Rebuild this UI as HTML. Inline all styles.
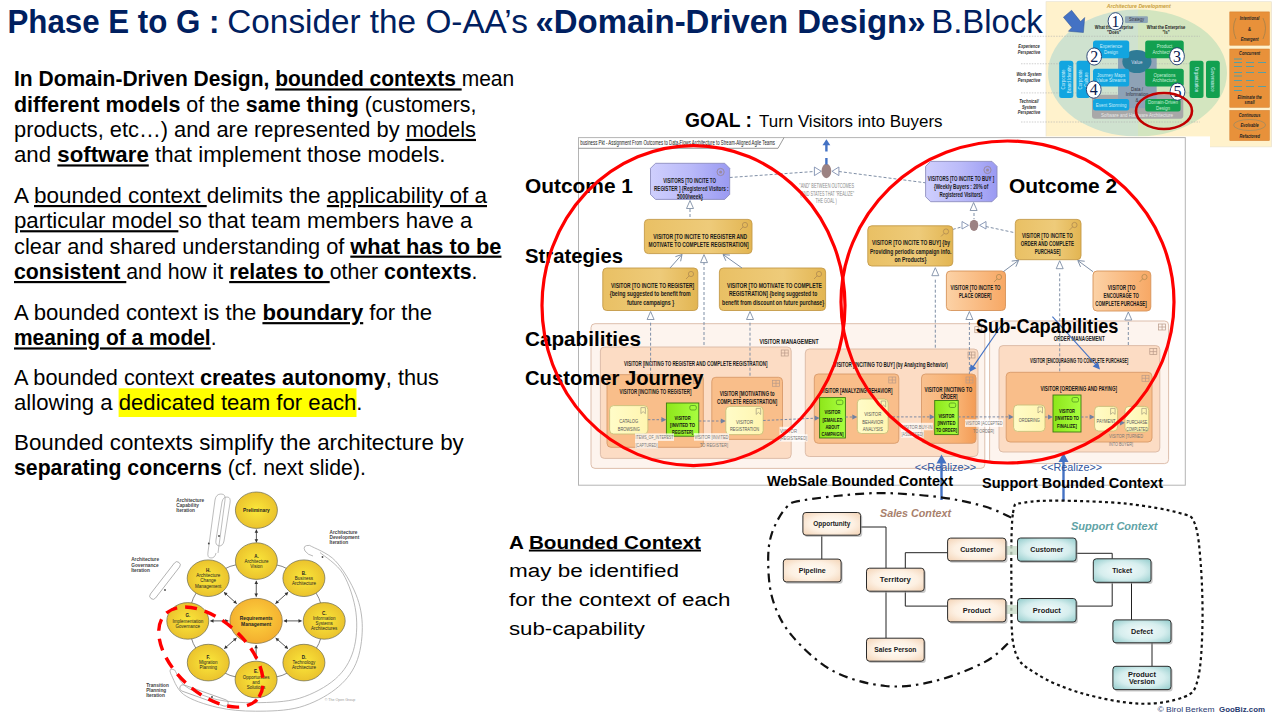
<!DOCTYPE html>
<html><head><meta charset="utf-8"><title>Domain-Driven Design B.Block</title>
<style>html,body{margin:0;padding:0;background:#fff;}svg{display:block;}</style></head>
<body><svg width="1280" height="720" viewBox="0 0 1280 720" font-family="Liberation Sans, sans-serif">
<defs>
<linearGradient id="gPurple" x1="0" x2="1" y1="0" y2="0"><stop offset="0" stop-color="#cfcffd"/><stop offset="0.5" stop-color="#babaf9"/><stop offset="1" stop-color="#9a9af2"/></linearGradient>
<linearGradient id="gGold" x1="0" x2="1" y1="0" y2="0"><stop offset="0" stop-color="#e9c064"/><stop offset="0.6" stop-color="#eecb7a"/><stop offset="1" stop-color="#e2b552"/></linearGradient>
<linearGradient id="gOrange" x1="0" x2="1" y1="0" y2="0"><stop offset="0" stop-color="#fcd2a6"/><stop offset="1" stop-color="#f7a865"/></linearGradient>
<linearGradient id="gSub" x1="0" x2="1" y1="0" y2="0"><stop offset="0" stop-color="#f9bf8c"/><stop offset="1" stop-color="#f8b67c"/></linearGradient>
<linearGradient id="gSub2" x1="0" x2="1" y1="0" y2="0"><stop offset="0" stop-color="#f9c08e"/><stop offset="0.7" stop-color="#f8b070"/><stop offset="1" stop-color="#f39b55"/></linearGradient>
<linearGradient id="gGreen" x1="0" x2="1" y1="0" y2="0"><stop offset="0" stop-color="#8ee61a"/><stop offset="1" stop-color="#a8ff40"/></linearGradient>
<linearGradient id="gYellow" x1="0" x2="1" y1="0" y2="0"><stop offset="0" stop-color="#fffcc8"/><stop offset="1" stop-color="#fff5b0"/></linearGradient>
<linearGradient id="gPeach" x1="0" x2="0" y1="0" y2="1"><stop offset="0" stop-color="#fffaf4"/><stop offset="1" stop-color="#f8dcc2"/></linearGradient>
<linearGradient id="gTeal" x1="0" x2="0" y1="0" y2="1"><stop offset="0" stop-color="#f0fafa"/><stop offset="1" stop-color="#a9d6d6"/></linearGradient>
<radialGradient id="gAdm" cx="0.5" cy="0.5" r="0.55"><stop offset="0" stop-color="#fbe83a"/><stop offset="1" stop-color="#e9bf2c"/></radialGradient>
<radialGradient id="gAdmC" cx="0.5" cy="0.45" r="0.55"><stop offset="0" stop-color="#fdd640"/><stop offset="1" stop-color="#f3ad2e"/></radialGradient>
</defs>
<rect x="1013.00" y="1.70" width="33.00" height="145.20" rx="0" fill="#ffffff" stroke="none" stroke-width="1" />
<rect x="1046.00" y="1.70" width="225.70" height="145.20" rx="0" fill="#fff2cc" stroke="#e6e0d0" stroke-width="0.6" />
<clipPath id="cpL"><rect x="1040" y="0" width="98" height="150"/></clipPath>
<clipPath id="cpR"><rect x="1138" y="0" width="100" height="150"/></clipPath>
<ellipse cx="1137.5" cy="73" rx="89.5" ry="63.5" fill="#cfe2cf" clip-path="url(#cpL)"/>
<ellipse cx="1137.5" cy="73" rx="89.5" ry="63.5" fill="#d3e5bf" clip-path="url(#cpR)"/>
<line x1="1021" y1="36.25" x2="1200" y2="36.25" stroke="#b0b0b0" stroke-width="0.6" stroke-dasharray="1.5 1.2"/>
<line x1="1021" y1="63.75" x2="1200" y2="63.75" stroke="#b0b0b0" stroke-width="0.6" stroke-dasharray="1.5 1.2"/>
<line x1="1021" y1="92.9" x2="1200" y2="92.9" stroke="#b0b0b0" stroke-width="0.6" stroke-dasharray="1.5 1.2"/>
<line x1="1021" y1="122" x2="1200" y2="122" stroke="#b0b0b0" stroke-width="0.6" stroke-dasharray="1.5 1.2"/>
<text font-style="italic" transform="translate(1029.00 48.00) scale(0.8 1)" font-size="5" font-weight="bold" fill="#333" text-anchor="middle">Experience</text>
<text font-style="italic" transform="translate(1029.00 53.60) scale(0.8 1)" font-size="5" font-weight="bold" fill="#333" text-anchor="middle">Perspective</text>
<text font-style="italic" transform="translate(1029.00 76.00) scale(0.8 1)" font-size="5" font-weight="bold" fill="#333" text-anchor="middle">Work System</text>
<text font-style="italic" transform="translate(1029.00 81.60) scale(0.8 1)" font-size="5" font-weight="bold" fill="#333" text-anchor="middle">Perspective</text>
<text font-style="italic" transform="translate(1029.00 103.00) scale(0.8 1)" font-size="5" font-weight="bold" fill="#333" text-anchor="middle">Technical/</text>
<text font-style="italic" transform="translate(1029.00 108.60) scale(0.8 1)" font-size="5" font-weight="bold" fill="#333" text-anchor="middle">System</text>
<text font-style="italic" transform="translate(1029.00 114.20) scale(0.8 1)" font-size="5" font-weight="bold" fill="#333" text-anchor="middle">Perspective</text>
<text font-style="italic" x="1106.70" y="8.20" font-size="6.2" font-weight="bold" fill="#c8a03c" textLength="64.00" lengthAdjust="spacingAndGlyphs">Architecture Development</text>
<rect x="1092.00" y="94.80" width="91.30" height="23.95" rx="3" fill="#a8a8a8" stroke="none" stroke-width="1" />
<text transform="translate(1137.00 116.50) scale(0.9 1)" font-size="5" font-weight="normal" fill="#e8e8e8" text-anchor="middle">Software and Hardware Architecture</text>
<rect x="1118.00" y="56.00" width="38.70" height="52.30" rx="3" fill="#8ea2b6" stroke="none" stroke-width="1" />
<ellipse cx="1136.9" cy="61.5" rx="14.6" ry="11.5" fill="#2e7b96"/>
<text transform="translate(1136.90 63.50) scale(0.9 1)" font-size="5" font-weight="normal" fill="#dde" text-anchor="middle">Value</text>
<text transform="translate(1137.00 90.50) scale(0.9 1)" font-size="5" font-weight="normal" fill="#334" text-anchor="middle">Data /</text>
<text transform="translate(1137.00 96.00) scale(0.9 1)" font-size="5" font-weight="normal" fill="#334" text-anchor="middle">Information</text>
<text transform="translate(1137.00 101.50) scale(0.9 1)" font-size="5" font-weight="normal" fill="#334" text-anchor="middle">&amp;</text>
<rect x="1093.00" y="40.60" width="36.20" height="17.70" rx="2.5" fill="#12a5e0" stroke="none" stroke-width="1" />
<text transform="translate(1111.10 48.45) scale(0.9 1)" font-size="5" font-weight="normal" fill="#cdeefa" text-anchor="middle">Experience</text>
<text transform="translate(1111.10 54.05) scale(0.9 1)" font-size="5" font-weight="normal" fill="#cdeefa" text-anchor="middle">Design</text>
<rect x="1093.00" y="68.75" width="36.20" height="17.75" rx="2.5" fill="#12a5e0" stroke="none" stroke-width="1" />
<text transform="translate(1111.10 76.62) scale(0.9 1)" font-size="5" font-weight="normal" fill="#cdeefa" text-anchor="middle">Journey Maps</text>
<text transform="translate(1111.10 82.22) scale(0.9 1)" font-size="5" font-weight="normal" fill="#cdeefa" text-anchor="middle">Value Streams</text>
<rect x="1093.00" y="99.00" width="36.20" height="11.40" rx="2.5" fill="#12a5e0" stroke="none" stroke-width="1" />
<text transform="translate(1111.10 106.50) scale(0.9 1)" font-size="5" font-weight="normal" fill="#cdeefa" text-anchor="middle">Event Storming</text>
<rect x="1145.20" y="40.60" width="38.55" height="17.70" rx="2.5" fill="#12a050" stroke="none" stroke-width="1" />
<text transform="translate(1164.47 48.45) scale(0.9 1)" font-size="5" font-weight="normal" fill="#c8f0d8" text-anchor="middle">Product</text>
<text transform="translate(1164.47 54.05) scale(0.9 1)" font-size="5" font-weight="normal" fill="#c8f0d8" text-anchor="middle">Architecture</text>
<rect x="1145.20" y="68.75" width="38.55" height="17.75" rx="2.5" fill="#12a050" stroke="none" stroke-width="1" />
<text transform="translate(1164.47 76.62) scale(0.9 1)" font-size="5" font-weight="normal" fill="#c8f0d8" text-anchor="middle">Operations</text>
<text transform="translate(1164.47 82.22) scale(0.9 1)" font-size="5" font-weight="normal" fill="#c8f0d8" text-anchor="middle">Architecture</text>
<rect x="1145.20" y="99.00" width="35.40" height="12.50" rx="2.5" fill="#12a050" stroke="none" stroke-width="1" />
<text transform="translate(1162.90 104.25) scale(0.9 1)" font-size="5" font-weight="normal" fill="#c8f0d8" text-anchor="middle">Domain-Driven</text>
<text transform="translate(1162.90 109.85) scale(0.9 1)" font-size="5" font-weight="normal" fill="#c8f0d8" text-anchor="middle">Design</text>
<rect x="1059.20" y="60.80" width="14.10" height="37.20" rx="2.5" fill="#12a5e0" stroke="none" stroke-width="1" />
<text transform="translate(1065.25 79.4) rotate(-90) scale(0.9 1)" font-size="5" text-anchor="middle" fill="#d4f0fc">Corporate</text>
<text transform="translate(1070.85 79.4) rotate(-90) scale(0.9 1)" font-size="5" text-anchor="middle" fill="#d4f0fc">Brand Identity</text>
<rect x="1076.50" y="60.80" width="13.50" height="37.20" rx="2.5" fill="#12a5e0" stroke="none" stroke-width="1" />
<text transform="translate(1082.25 79.4) rotate(-90) scale(0.9 1)" font-size="5" text-anchor="middle" fill="#d4f0fc">Corporate</text>
<text transform="translate(1087.85 79.4) rotate(-90) scale(0.9 1)" font-size="5" text-anchor="middle" fill="#d4f0fc">Culture</text>
<rect x="1189.60" y="60.80" width="13.90" height="37.20" rx="2.5" fill="#12a050" stroke="none" stroke-width="1" />
<text transform="translate(1194.75 79.4) rotate(90) scale(0.9 1)" font-size="5" text-anchor="middle" fill="#d4f0fc">Organization</text>
<rect x="1206.00" y="60.80" width="13.80" height="37.20" rx="2.5" fill="#12a050" stroke="none" stroke-width="1" />
<text transform="translate(1211.10 79.4) rotate(90) scale(0.9 1)" font-size="5" text-anchor="middle" fill="#d4f0fc">Governance</text>
<rect x="1125.00" y="16.25" width="22.90" height="6.65" rx="1" fill="#8fa6b6" stroke="none" stroke-width="1" />
<text transform="translate(1136.50 21.30) scale(0.9 1)" font-size="4.5" font-weight="normal" fill="#334" text-anchor="middle">Strategy</text>
<text transform="translate(1114.00 28.50) scale(0.85 1)" font-size="4.8" font-weight="bold" fill="#222" text-anchor="middle">What the Enterprise</text>
<text transform="translate(1114.00 33.50) scale(0.85 1)" font-size="4.8" font-weight="bold" fill="#222" text-anchor="middle">"Does"</text>
<text transform="translate(1166.00 28.50) scale(0.85 1)" font-size="4.8" font-weight="bold" fill="#222" text-anchor="middle">What the Enterprise</text>
<text transform="translate(1166.00 33.50) scale(0.85 1)" font-size="4.8" font-weight="bold" fill="#222" text-anchor="middle">"Is"</text>
<path d="M1063.4 17.2 L1071.6 10.3 L1080.6 21.6 L1084.7 17.5 L1083.4 32.5 L1068.4 31.25 L1071.9 27.5 Z" fill="#4472c4" stroke="#2f528f" stroke-width="0.5"/>
<rect x="1229.80" y="11.90" width="39.60" height="33.30" rx="0" fill="#e8913a" stroke="#d07a28" stroke-width="0.5" />
<rect x="1229.80" y="49.00" width="39.60" height="58.30" rx="0" fill="#e8913a" stroke="#d07a28" stroke-width="0.5" />
<rect x="1229.80" y="110.40" width="39.60" height="30.20" rx="0" fill="#e8913a" stroke="#d07a28" stroke-width="0.5" />
<text font-style="italic" transform="translate(1249.60 19.50) scale(0.85 1)" font-size="4.6" font-weight="bold" fill="#222" text-anchor="middle">Intentional</text>
<text transform="translate(1249.60 30.50) scale(0.85 1)" font-size="5" font-weight="bold" fill="#222" text-anchor="middle">&amp;</text>
<text font-style="italic" transform="translate(1249.60 41.00) scale(0.85 1)" font-size="4.6" font-weight="bold" fill="#222" text-anchor="middle">Emergent</text>
<path d="M1236 18 Q1231 28 1236 39 M1263 18 Q1268 28 1263 39" fill="none" stroke="#8a7a50" stroke-width="0.6"/>
<text font-style="italic" transform="translate(1249.60 55.00) scale(0.85 1)" font-size="4.6" font-weight="bold" fill="#222" text-anchor="middle">Concurrent</text>
<line x1="1234" y1="59" x2="1242" y2="59" stroke="#46a0b0" stroke-width="0.9"/>
<line x1="1234" y1="62.5" x2="1242" y2="62.5" stroke="#46a0b0" stroke-width="0.9"/>
<line x1="1246" y1="62.5" x2="1254" y2="62.5" stroke="#46a0b0" stroke-width="0.9"/>
<line x1="1258" y1="62.5" x2="1266" y2="62.5" stroke="#46a0b0" stroke-width="0.9"/>
<line x1="1234" y1="66.5" x2="1242" y2="66.5" stroke="#46a0b0" stroke-width="0.9"/>
<line x1="1246" y1="66.5" x2="1254" y2="66.5" stroke="#46a0b0" stroke-width="0.9"/>
<line x1="1234" y1="72.5" x2="1242" y2="72.5" stroke="#46a0b0" stroke-width="0.9"/>
<line x1="1246" y1="72.5" x2="1254" y2="72.5" stroke="#46a0b0" stroke-width="0.9"/>
<line x1="1258" y1="72.5" x2="1266" y2="72.5" stroke="#46a0b0" stroke-width="0.9"/>
<line x1="1234" y1="76" x2="1242" y2="76" stroke="#46a0b0" stroke-width="0.9"/>
<line x1="1234" y1="80.5" x2="1242" y2="80.5" stroke="#46a0b0" stroke-width="0.9"/>
<line x1="1246" y1="80.5" x2="1254" y2="80.5" stroke="#46a0b0" stroke-width="0.9"/>
<line x1="1234" y1="86.5" x2="1242" y2="86.5" stroke="#46a0b0" stroke-width="0.9"/>
<line x1="1246" y1="86.5" x2="1254" y2="86.5" stroke="#46a0b0" stroke-width="0.9"/>
<line x1="1258" y1="86.5" x2="1266" y2="86.5" stroke="#46a0b0" stroke-width="0.9"/>
<line x1="1234" y1="90.5" x2="1242" y2="90.5" stroke="#46a0b0" stroke-width="0.9"/>
<text font-style="italic" transform="translate(1249.60 98.50) scale(0.85 1)" font-size="4.6" font-weight="bold" fill="#222" text-anchor="middle">Eliminate the</text>
<text font-style="italic" transform="translate(1249.60 104.00) scale(0.85 1)" font-size="4.6" font-weight="bold" fill="#222" text-anchor="middle">small</text>
<text font-style="italic" transform="translate(1249.60 116.50) scale(0.85 1)" font-size="4.6" font-weight="bold" fill="#222" text-anchor="middle">Continuous</text>
<ellipse cx="1249.6" cy="125" rx="16" ry="5.5" fill="none" stroke="#a08a60" stroke-width="0.8"/>
<text font-style="italic" transform="translate(1249.60 126.80) scale(0.85 1)" font-size="4.6" font-weight="bold" fill="#222" text-anchor="middle">Evolvable</text>
<text font-style="italic" transform="translate(1249.60 137.50) scale(0.85 1)" font-size="4.6" font-weight="bold" fill="#222" text-anchor="middle">Refactored</text>
<ellipse cx="1115.5" cy="21.25" rx="7.4" ry="8.6" fill="#ffffff" stroke="#1f3a70" stroke-width="0.9"/>
<text x="1115.5" y="26.85" font-size="16" font-family="Liberation Serif" text-anchor="middle" fill="#0a1a50">1</text>
<ellipse cx="1094.2" cy="56.5" rx="7.4" ry="8.6" fill="#ffffff" stroke="#1f3a70" stroke-width="0.9"/>
<text x="1094.2" y="62.1" font-size="16" font-family="Liberation Serif" text-anchor="middle" fill="#0a1a50">2</text>
<ellipse cx="1177" cy="56.25" rx="7.4" ry="8.6" fill="#ffffff" stroke="#1f3a70" stroke-width="0.9"/>
<text x="1177" y="61.85" font-size="16" font-family="Liberation Serif" text-anchor="middle" fill="#0a1a50">3</text>
<ellipse cx="1093.75" cy="89.6" rx="7.4" ry="8.6" fill="#ffffff" stroke="#1f3a70" stroke-width="0.9"/>
<text x="1093.75" y="95.19999999999999" font-size="16" font-family="Liberation Serif" text-anchor="middle" fill="#0a1a50">4</text>
<ellipse cx="1177.5" cy="91.7" rx="7.4" ry="8.6" fill="#ffffff" stroke="#1f3a70" stroke-width="0.9"/>
<text x="1177.5" y="97.3" font-size="16" font-family="Liberation Serif" text-anchor="middle" fill="#0a1a50">5</text>
<ellipse cx="1164" cy="111" rx="28" ry="18" fill="none" stroke="#c00000" stroke-width="2.6"/>
<text x="7.50" y="33.00" font-size="33.5" textLength="212.00" lengthAdjust="spacingAndGlyphs" font-weight="bold" fill="#002060" >Phase E to G :</text>
<text x="227.30" y="33.00" font-size="33.5" textLength="300.50" lengthAdjust="spacingAndGlyphs" fill="#002060" >Consider the O-AA’s</text>
<text x="535.50" y="33.00" font-size="33.5" textLength="390.00" lengthAdjust="spacingAndGlyphs" font-weight="bold" fill="#002060" >«Domain-Driven Design»</text>
<text x="931.30" y="33.00" font-size="33.5" textLength="111.50" lengthAdjust="spacingAndGlyphs" fill="#002060" >B.Block</text>
<rect x="578.00" y="136.40" width="632.00" height="350.60" rx="0" fill="#ffffff" stroke="none" stroke-width="1" />
<rect x="578.50" y="137.60" width="606.80" height="347.60" rx="0" fill="none" stroke="#b4b4b4" stroke-width="1" />
<path d="M578.5 148.3 L778 148.3 L784 137.6" fill="none" stroke="#808080" stroke-width="0.8"/>
<text x="580.30" y="145.20" font-size="7" font-weight="normal" fill="#222" textLength="194.70" lengthAdjust="spacingAndGlyphs">business Pkt - Assignment From Outcomes to Data-Flows Architecture to Stream-Aligned Agile Teams</text>
<rect x="591.00" y="323.70" width="393.80" height="144.70" rx="4" fill="#fdf4ee" stroke="#d9b8a4" stroke-width="0.9" />
<text x="759.50" y="343.60" font-size="6.6" font-weight="bold" fill="#1a1a1a" textLength="59.20" lengthAdjust="spacingAndGlyphs">VISITOR MANAGEMENT</text>
<rect x="989.60" y="321.00" width="179.00" height="142.60" rx="4" fill="#fdf4ee" stroke="#d9b8a4" stroke-width="0.9" />
<text x="1053.70" y="341.20" font-size="6.6" font-weight="bold" fill="#1a1a1a" textLength="51.00" lengthAdjust="spacingAndGlyphs">ORDER MANAGEMENT</text>
<rect x="600.40" y="347.00" width="190.80" height="111.40" rx="4" fill="#fcdcc4" stroke="#d9b8a4" stroke-width="0.9" />
<text x="624.00" y="366.20" font-size="6.4" font-weight="bold" fill="#1a1a1a" textLength="143.50" lengthAdjust="spacingAndGlyphs">VISITOR [INCITING TO REGISTER AND COMPLETE REGISTRATION]</text>
<rect x="607.00" y="374.70" width="96.30" height="72.60" rx="4" fill="#f9be8a" stroke="#d89a6a" stroke-width="0.9" />
<text x="619.60" y="394.20" font-size="6.4" font-weight="bold" fill="#1a1a1a" textLength="71.80" lengthAdjust="spacingAndGlyphs">VISITOR [INCITING TO REGISTER]</text>
<rect x="711.80" y="377.30" width="70.70" height="62.10" rx="4" fill="#f9be8a" stroke="#d89a6a" stroke-width="0.9" />
<text x="719.70" y="396.00" font-size="6.4" font-weight="bold" fill="#1a1a1a" textLength="54.90" lengthAdjust="spacingAndGlyphs">VISITOR [MOTIVATING to</text>
<text x="717.00" y="403.90" font-size="6.4" font-weight="bold" fill="#1a1a1a" textLength="60.20" lengthAdjust="spacingAndGlyphs">COMPLETE REGISTRATION]</text>
<rect x="805.30" y="349.00" width="172.70" height="107.50" rx="4" fill="#fcdcc4" stroke="#d9b8a4" stroke-width="0.9" />
<text x="833.60" y="367.00" font-size="6.4" font-weight="bold" fill="#1a1a1a" textLength="114.30" lengthAdjust="spacingAndGlyphs">VISITOR [INCITING TO BUY] (by Analyzing Behavior)</text>
<rect x="814.30" y="374.00" width="84.50" height="69.30" rx="4" fill="#f9be8a" stroke="#d89a6a" stroke-width="0.9" />
<text x="821.20" y="392.60" font-size="6.4" font-weight="bold" fill="#1a1a1a" textLength="71.20" lengthAdjust="spacingAndGlyphs">VISITOR [ANALYZING BEHAVIOR]</text>
<rect x="921.50" y="374.00" width="54.50" height="69.30" rx="4" fill="url(#gSub2)" stroke="#d89a6a" stroke-width="0.9" />
<text x="924.60" y="392.00" font-size="6.4" font-weight="bold" fill="#1a1a1a" textLength="47.60" lengthAdjust="spacingAndGlyphs">VISITOR [INCITING TO</text>
<text x="949.00" y="399.40" font-size="6.4" font-weight="bold" fill="#1a1a1a" text-anchor="middle" textLength="17.00" lengthAdjust="spacingAndGlyphs">ORDER]</text>
<rect x="999.00" y="345.60" width="160.80" height="106.40" rx="4" fill="#fcdcc4" stroke="#d9b8a4" stroke-width="0.9" />
<text x="1030.00" y="363.00" font-size="6.4" font-weight="bold" fill="#1a1a1a" textLength="98.20" lengthAdjust="spacingAndGlyphs">VISITOR [ENCOURAGING TO COMPLETE PURCHASE]</text>
<rect x="1006.20" y="372.30" width="145.80" height="69.70" rx="4" fill="#f9be8a" stroke="#d89a6a" stroke-width="0.9" />
<text x="1040.50" y="390.70" font-size="6.4" font-weight="bold" fill="#1a1a1a" textLength="76.50" lengthAdjust="spacingAndGlyphs">VISITOR [ORDERING AND PAYING]</text>
<g fill="none" stroke="#b89a88" stroke-width="0.7"><rect x="781.2" y="350.0" width="7" height="6"/><line x1="781.2" y1="353.0" x2="788.2" y2="353.0"/><line x1="784.7" y1="350.0" x2="784.7" y2="356.0"/></g>
<g fill="none" stroke="#b89a88" stroke-width="0.7"><rect x="693.3" y="377.7" width="7" height="6"/><line x1="693.3" y1="380.7" x2="700.3" y2="380.7"/><line x1="696.8" y1="377.7" x2="696.8" y2="383.7"/></g>
<g fill="none" stroke="#b89a88" stroke-width="0.7"><rect x="772.5" y="380.3" width="7" height="6"/><line x1="772.5" y1="383.3" x2="779.5" y2="383.3"/><line x1="776.0" y1="380.3" x2="776.0" y2="386.3"/></g>
<g fill="none" stroke="#b89a88" stroke-width="0.7"><rect x="968.0" y="352.0" width="7" height="6"/><line x1="968.0" y1="355.0" x2="975.0" y2="355.0"/><line x1="971.5" y1="352.0" x2="971.5" y2="358.0"/></g>
<g fill="none" stroke="#b89a88" stroke-width="0.7"><rect x="888.8" y="377.0" width="7" height="6"/><line x1="888.8" y1="380.0" x2="895.8" y2="380.0"/><line x1="892.3" y1="377.0" x2="892.3" y2="383.0"/></g>
<g fill="none" stroke="#b89a88" stroke-width="0.7"><rect x="966.0" y="377.0" width="7" height="6"/><line x1="966.0" y1="380.0" x2="973.0" y2="380.0"/><line x1="969.5" y1="377.0" x2="969.5" y2="383.0"/></g>
<g fill="none" stroke="#b89a88" stroke-width="0.7"><rect x="1149.8" y="348.6" width="7" height="6"/><line x1="1149.8" y1="351.6" x2="1156.8" y2="351.6"/><line x1="1153.3" y1="348.6" x2="1153.3" y2="354.6"/></g>
<g fill="none" stroke="#b89a88" stroke-width="0.7"><rect x="1142.0" y="375.3" width="7" height="6"/><line x1="1142.0" y1="378.3" x2="1149.0" y2="378.3"/><line x1="1145.5" y1="375.3" x2="1145.5" y2="381.3"/></g>
<g fill="none" stroke="#b89a88" stroke-width="0.7"><rect x="1158.6" y="324.0" width="7" height="6"/><line x1="1158.6" y1="327.0" x2="1165.6" y2="327.0"/><line x1="1162.1" y1="324.0" x2="1162.1" y2="330.0"/></g>
<g fill="none" stroke="#b89a88" stroke-width="0.7"><rect x="974.8" y="326.7" width="7" height="6"/><line x1="974.8" y1="329.7" x2="981.8" y2="329.7"/><line x1="978.3" y1="326.7" x2="978.3" y2="332.7"/></g>
<rect x="609.60" y="405.60" width="38.30" height="28.40" rx="4" fill="url(#gYellow)" stroke="#c9c07a" stroke-width="0.9" /><text x="628.75" y="423.00" font-size="6" font-weight="normal" fill="#555" text-anchor="middle" textLength="19.00" lengthAdjust="spacingAndGlyphs">CATALOG</text><text x="628.75" y="430.60" font-size="6" font-weight="normal" fill="#555" text-anchor="middle" textLength="22.00" lengthAdjust="spacingAndGlyphs">BROWSING</text>
<rect x="725.80" y="406.40" width="37.40" height="28.20" rx="4" fill="url(#gYellow)" stroke="#c9c07a" stroke-width="0.9" /><text x="744.50" y="423.50" font-size="6" font-weight="normal" fill="#555" text-anchor="middle" textLength="17.00" lengthAdjust="spacingAndGlyphs">VISITOR</text><text x="744.50" y="431.20" font-size="6" font-weight="normal" fill="#555" text-anchor="middle" textLength="29.00" lengthAdjust="spacingAndGlyphs">REGISTRATION</text>
<rect x="857.30" y="399.00" width="30.90" height="34.50" rx="4" fill="url(#gYellow)" stroke="#c9c07a" stroke-width="0.9" /><text x="872.75" y="416.10" font-size="6" font-weight="normal" fill="#555" text-anchor="middle" textLength="17.00" lengthAdjust="spacingAndGlyphs">VISITOR</text><text x="872.75" y="423.60" font-size="6" font-weight="normal" fill="#555" text-anchor="middle" textLength="21.00" lengthAdjust="spacingAndGlyphs">BEHAVIOR</text><text x="872.75" y="431.10" font-size="6" font-weight="normal" fill="#555" text-anchor="middle" textLength="20.00" lengthAdjust="spacingAndGlyphs">ANALYSIS</text>
<rect x="1013.60" y="405.00" width="31.40" height="26.40" rx="4" fill="url(#gYellow)" stroke="#c9c07a" stroke-width="0.9" /><text x="1029.30" y="422.30" font-size="6" font-weight="normal" fill="#555" text-anchor="middle" textLength="21.00" lengthAdjust="spacingAndGlyphs">ORDERING</text>
<rect x="1094.60" y="406.40" width="23.00" height="24.60" rx="4" fill="url(#gYellow)" stroke="#c9c07a" stroke-width="0.9" /><text x="1106.10" y="422.60" font-size="6" font-weight="normal" fill="#555" text-anchor="middle" textLength="19.00" lengthAdjust="spacingAndGlyphs">PAYMENT</text>
<rect x="1125.00" y="406.40" width="23.80" height="25.60" rx="4" fill="url(#gYellow)" stroke="#c9c07a" stroke-width="0.9" /><text x="1136.90" y="423.60" font-size="6" font-weight="normal" fill="#555" text-anchor="middle" textLength="21.00" lengthAdjust="spacingAndGlyphs">PURCHASE</text><text x="1136.90" y="431.10" font-size="6" font-weight="normal" fill="#555" text-anchor="middle" textLength="21.50" lengthAdjust="spacingAndGlyphs">COMPLETED</text>
<path d="M640.9 407.6 L645.4 407.6 L645.4 413.6 L643.15 411.6 L640.9 413.6 Z" fill="none" stroke="#a09a80" stroke-width="0.7"/>
<path d="M756.2 408.4 L760.7 408.4 L760.7 414.4 L758.45 412.4 L756.2 414.4 Z" fill="none" stroke="#a09a80" stroke-width="0.7"/>
<path d="M881.2 401 L885.7 401 L885.7 407 L883.45 405 L881.2 407 Z" fill="none" stroke="#a09a80" stroke-width="0.7"/>
<path d="M1038 407 L1042.5 407 L1042.5 413 L1040.25 411 L1038 413 Z" fill="none" stroke="#a09a80" stroke-width="0.7"/>
<path d="M1110.6 408.4 L1115.1 408.4 L1115.1 414.4 L1112.85 412.4 L1110.6 414.4 Z" fill="none" stroke="#a09a80" stroke-width="0.7"/>
<path d="M1141.8 408.4 L1146.3 408.4 L1146.3 414.4 L1144.05 412.4 L1141.8 414.4 Z" fill="none" stroke="#a09a80" stroke-width="0.7"/>
<rect x="666.40" y="403.00" width="32.40" height="33.20" rx="0" fill="url(#gGreen)" stroke="#3a7a10" stroke-width="0.9" /><text x="682.60" y="420.40" font-size="6" font-weight="bold" fill="#111" text-anchor="middle" textLength="16.00" lengthAdjust="spacingAndGlyphs">VISITOR</text><text x="682.60" y="427.20" font-size="6" font-weight="bold" fill="#111" text-anchor="middle" textLength="25.00" lengthAdjust="spacingAndGlyphs">[INVITED TO</text><text x="682.60" y="434.20" font-size="6" font-weight="bold" fill="#111" text-anchor="middle" textLength="21.00" lengthAdjust="spacingAndGlyphs">REGISTER]</text><rect x="689.80" y="405.50" width="6.50" height="4.50" rx="1.5" fill="none" stroke="#4a8a20" stroke-width="0.7" />
<rect x="819.60" y="397.60" width="25.80" height="40.40" rx="0" fill="url(#gGreen)" stroke="#3a7a10" stroke-width="0.9" /><text x="832.50" y="414.40" font-size="6" font-weight="bold" fill="#111" text-anchor="middle" textLength="16.00" lengthAdjust="spacingAndGlyphs">VISITOR</text><text x="832.50" y="421.80" font-size="6" font-weight="bold" fill="#111" text-anchor="middle" textLength="20.00" lengthAdjust="spacingAndGlyphs">[EMAILED</text><text x="832.50" y="429.00" font-size="6" font-weight="bold" fill="#111" text-anchor="middle" textLength="14.00" lengthAdjust="spacingAndGlyphs">ABOUT</text><text x="832.50" y="436.30" font-size="6" font-weight="bold" fill="#111" text-anchor="middle" textLength="22.00" lengthAdjust="spacingAndGlyphs">CAMPAIGN]</text><rect x="836.40" y="400.10" width="6.50" height="4.50" rx="1.5" fill="none" stroke="#4a8a20" stroke-width="0.7" />
<rect x="934.70" y="400.50" width="23.50" height="34.10" rx="0" fill="url(#gGreen)" stroke="#3a7a10" stroke-width="0.9" /><text x="946.45" y="417.80" font-size="6" font-weight="bold" fill="#111" text-anchor="middle" textLength="16.00" lengthAdjust="spacingAndGlyphs">VISITOR</text><text x="946.45" y="425.00" font-size="6" font-weight="bold" fill="#111" text-anchor="middle" textLength="18.00" lengthAdjust="spacingAndGlyphs">[INVITED</text><text x="946.45" y="432.30" font-size="6" font-weight="bold" fill="#111" text-anchor="middle" textLength="21.00" lengthAdjust="spacingAndGlyphs">TO ORDER]</text><rect x="949.20" y="403.00" width="6.50" height="4.50" rx="1.5" fill="none" stroke="#4a8a20" stroke-width="0.7" />
<rect x="1053.00" y="395.00" width="28.00" height="37.00" rx="0" fill="url(#gGreen)" stroke="#3a7a10" stroke-width="0.9" /><text x="1067.00" y="413.20" font-size="6" font-weight="bold" fill="#111" text-anchor="middle" textLength="16.00" lengthAdjust="spacingAndGlyphs">VISITOR</text><text x="1067.00" y="420.20" font-size="6" font-weight="bold" fill="#111" text-anchor="middle" textLength="24.00" lengthAdjust="spacingAndGlyphs">[INVITED TO</text><text x="1067.00" y="427.60" font-size="6" font-weight="bold" fill="#111" text-anchor="middle" textLength="20.00" lengthAdjust="spacingAndGlyphs">FINALIZE]</text><rect x="1072.00" y="397.50" width="6.50" height="4.50" rx="1.5" fill="none" stroke="#4a8a20" stroke-width="0.7" />
<line x1="647.90" y1="419.70" x2="662.40" y2="419.70" stroke="#6f80a0" stroke-width="0.9" stroke-dasharray="2.5 1.8"/><path d="M661.40 422.30 L666.40 419.70 L661.40 417.10 Z" fill="#6f80a0"/>
<line x1="698.80" y1="421.00" x2="721.80" y2="421.00" stroke="#6f80a0" stroke-width="0.9" stroke-dasharray="2.5 1.8"/><path d="M720.80 423.60 L725.80 421.00 L720.80 418.40 Z" fill="#6f80a0"/>
<line x1="763.20" y1="420.50" x2="815.60" y2="418.18" stroke="#6f80a0" stroke-width="0.9" stroke-dasharray="2.5 1.8"/><path d="M814.72 420.82 L819.60 418.00 L814.49 415.62 Z" fill="#6f80a0"/>
<line x1="845.40" y1="417.00" x2="853.30" y2="417.00" stroke="#6f80a0" stroke-width="0.9" stroke-dasharray="2.5 1.8"/><path d="M852.30 419.60 L857.30 417.00 L852.30 414.40 Z" fill="#6f80a0"/>
<line x1="888.20" y1="416.90" x2="930.70" y2="416.90" stroke="#6f80a0" stroke-width="0.9" stroke-dasharray="2.5 1.8"/><path d="M929.70 419.50 L934.70 416.90 L929.70 414.30 Z" fill="#6f80a0"/>
<line x1="958.20" y1="416.90" x2="1009.60" y2="416.90" stroke="#6f80a0" stroke-width="0.9" stroke-dasharray="2.5 1.8"/><path d="M1008.60 419.50 L1013.60 416.90 L1008.60 414.30 Z" fill="#6f80a0"/>
<line x1="1045.00" y1="417.00" x2="1049.00" y2="417.00" stroke="#6f80a0" stroke-width="0.9" stroke-dasharray="2.5 1.8"/><path d="M1048.00 419.60 L1053.00 417.00 L1048.00 414.40 Z" fill="#6f80a0"/>
<line x1="1081.00" y1="417.00" x2="1090.60" y2="417.00" stroke="#6f80a0" stroke-width="0.9" stroke-dasharray="2.5 1.8"/><path d="M1089.60 419.60 L1094.60 417.00 L1089.60 414.40 Z" fill="#6f80a0"/>
<line x1="1117.60" y1="422.80" x2="1121.00" y2="422.80" stroke="#6f80a0" stroke-width="1"/>
<path d="M1120 420.2 L1125 422.8 L1120 425.4 Z" fill="#6f80a0"/>
<rect x="635.00" y="433.40" width="39.00" height="7.50" rx="0" fill="#ffffff" stroke="none" stroke-width="1" opacity="0.75"/><text x="635.50" y="439.40" font-size="6" font-weight="normal" fill="#777" textLength="38.00" lengthAdjust="spacingAndGlyphs">ITEMS_OF_INTEREST</text><rect x="635.00" y="440.80" width="23.00" height="7.50" rx="0" fill="#ffffff" stroke="none" stroke-width="1" opacity="0.75"/><text x="635.50" y="446.80" font-size="6" font-weight="normal" fill="#777" textLength="22.00" lengthAdjust="spacingAndGlyphs">[CAPTURED]</text>
<rect x="694.00" y="433.20" width="35.00" height="7.50" rx="0" fill="#ffffff" stroke="none" stroke-width="1" opacity="0.75"/><text x="694.50" y="439.20" font-size="6" font-weight="normal" fill="#777" textLength="34.00" lengthAdjust="spacingAndGlyphs">VISITOR [INVITED</text>
<text x="700.00" y="446.80" font-size="6" font-weight="normal" fill="#777" textLength="28.00" lengthAdjust="spacingAndGlyphs">TO REGISTER]</text>
<rect x="779.50" y="426.80" width="18.00" height="7.50" rx="0" fill="#ffffff" stroke="none" stroke-width="1" opacity="0.75"/><text x="780.00" y="432.80" font-size="6" font-weight="normal" fill="#777" textLength="17.00" lengthAdjust="spacingAndGlyphs">VISITOR</text><rect x="779.50" y="434.20" width="28.00" height="7.50" rx="0" fill="#ffffff" stroke="none" stroke-width="1" opacity="0.75"/><text x="780.00" y="440.20" font-size="6" font-weight="normal" fill="#777" textLength="27.00" lengthAdjust="spacingAndGlyphs">[REGISTERED]</text>
<rect x="900.90" y="422.80" width="32.00" height="7.50" rx="0" fill="#ffffff" stroke="none" stroke-width="1" opacity="0.75"/><text x="901.40" y="428.80" font-size="6" font-weight="normal" fill="#777" textLength="31.00" lengthAdjust="spacingAndGlyphs">VISITOR.BUY-IN</text><rect x="900.90" y="430.20" width="23.00" height="7.50" rx="0" fill="#ffffff" stroke="none" stroke-width="1" opacity="0.75"/><text x="901.40" y="436.20" font-size="6" font-weight="normal" fill="#777" textLength="22.00" lengthAdjust="spacingAndGlyphs">[ASSESSED]</text>
<rect x="965.00" y="419.40" width="38.00" height="7.50" rx="0" fill="#ffffff" stroke="none" stroke-width="1" opacity="0.75"/><text x="965.50" y="425.40" font-size="6" font-weight="normal" fill="#777" textLength="37.00" lengthAdjust="spacingAndGlyphs">VISITOR [ACCEPTED</text>
<text x="973.00" y="432.80" font-size="6" font-weight="normal" fill="#777" textLength="21.00" lengthAdjust="spacingAndGlyphs">TO ORDER]</text>
<text x="1109.00" y="438.20" font-size="6" font-weight="normal" fill="#777" textLength="34.00" lengthAdjust="spacingAndGlyphs">VISITOR [TURNED</text>
<text x="1109.00" y="445.60" font-size="6" font-weight="normal" fill="#777" textLength="24.00" lengthAdjust="spacingAndGlyphs">INTO BUYER]</text>
<line x1="690.00" y1="209.00" x2="690.00" y2="219.40" stroke="#7f8fa6" stroke-width="1" stroke-dasharray="3 2"/>
<line x1="704.00" y1="262.00" x2="704.00" y2="347.00" stroke="#7f8fa6" stroke-width="1" stroke-dasharray="3 2"/>
<line x1="650.60" y1="322.70" x2="650.60" y2="374.70" stroke="#7f8fa6" stroke-width="1" stroke-dasharray="3 2"/>
<line x1="750.00" y1="322.70" x2="750.00" y2="377.30" stroke="#7f8fa6" stroke-width="1" stroke-dasharray="3 2"/>
<line x1="935.30" y1="279.70" x2="935.30" y2="349.00" stroke="#7f8fa6" stroke-width="1" stroke-dasharray="3 2"/>
<line x1="969.40" y1="322.00" x2="969.40" y2="374.00" stroke="#7f8fa6" stroke-width="1" stroke-dasharray="3 2"/>
<line x1="1059.70" y1="273.30" x2="1059.70" y2="372.30" stroke="#7f8fa6" stroke-width="1" stroke-dasharray="3 2"/>
<line x1="1128.30" y1="322.00" x2="1128.30" y2="345.60" stroke="#7f8fa6" stroke-width="1" stroke-dasharray="3 2"/>
<line x1="974.00" y1="213.00" x2="974.00" y2="219.00" stroke="#7f8fa6" stroke-width="1" stroke-dasharray="3 2"/>
<line x1="729.70" y1="177.50" x2="814.40" y2="171.50" stroke="#7f8fa6" stroke-width="1" stroke-dasharray="3 2"/>
<line x1="838.90" y1="171.50" x2="925.60" y2="182.80" stroke="#7f8fa6" stroke-width="1" stroke-dasharray="3 2"/>
<line x1="952.80" y1="229.40" x2="967.00" y2="225.50" stroke="#7f8fa6" stroke-width="1" stroke-dasharray="3 2"/>
<line x1="981.00" y1="225.50" x2="1015.30" y2="232.80" stroke="#7f8fa6" stroke-width="1" stroke-dasharray="3 2"/>
<path d="M655.5 163.3 L724.7 163.3 L729.7 168.3 L729.7 194.4 L724.7 199.4 L655.5 199.4 L650.5 194.4 L650.5 168.3 Z" fill="url(#gPurple)" stroke="#8d8dc0" stroke-width="0.9"/>
<text x="663.20" y="182.60" font-size="6.8" font-weight="bold" fill="#1a1a1a" textLength="52.80" lengthAdjust="spacingAndGlyphs">VISITORS [TO INCITE TO</text>
<text x="654.00" y="191.00" font-size="6.8" font-weight="bold" fill="#1a1a1a" textLength="74.60" lengthAdjust="spacingAndGlyphs">REGISTER ] {Registered Visitors :</text>
<text x="677.00" y="198.80" font-size="6.8" font-weight="bold" fill="#1a1a1a" textLength="26.00" lengthAdjust="spacingAndGlyphs">5000/week}</text>
<circle cx="720.6" cy="172" r="3.6" fill="none" stroke="#9a8aa0" stroke-width="1"/><circle cx="720.6" cy="172" r="1.5" fill="#9a8aa0"/>
<path d="M930.6 161.4 L992 161.4 L997 166.4 L997 196.7 L992 201.7 L930.6 201.7 L925.6 196.7 L925.6 166.4 Z" fill="url(#gPurple)" stroke="#8d8dc0" stroke-width="0.9"/>
<text x="927.80" y="180.60" font-size="6.8" font-weight="bold" fill="#1a1a1a" textLength="66.40" lengthAdjust="spacingAndGlyphs">VISITORS [TO INCITE TO BUY ]</text>
<text x="933.90" y="188.70" font-size="6.8" font-weight="bold" fill="#1a1a1a" textLength="54.40" lengthAdjust="spacingAndGlyphs">{Weekly Buyers : 20% of</text>
<text x="939.40" y="196.80" font-size="6.8" font-weight="bold" fill="#1a1a1a" textLength="43.10" lengthAdjust="spacingAndGlyphs">Registered Visitors}</text>
<circle cx="987.5" cy="170" r="3.6" fill="none" stroke="#9a8aa0" stroke-width="1"/><circle cx="987.5" cy="170" r="1.5" fill="#9a8aa0"/>
<path d="M690.00 200.50 L693.50 208.50 L686.50 208.50 Z" fill="#fff" stroke="#7f8fa6" stroke-width="0.9"/>
<path d="M973.60 202.50 L977.10 210.50 L970.10 210.50 Z" fill="#fff" stroke="#7f8fa6" stroke-width="0.9"/>
<rect x="644.40" y="219.40" width="107.60" height="34.20" rx="4" fill="url(#gGold)" stroke="#c49a48" stroke-width="0.9" />
<text x="653.30" y="239.30" font-size="6.8" font-weight="bold" fill="#1a1a1a" textLength="93.90" lengthAdjust="spacingAndGlyphs">VISITOR [TO INCITE TO REGISTER AND</text>
<text x="648.60" y="247.40" font-size="6.8" font-weight="bold" fill="#1a1a1a" textLength="100.00" lengthAdjust="spacingAndGlyphs">MOTIVATE TO COMPLETE REGISTRATION]</text>
<circle cx="745" cy="225" r="2.6" fill="none" stroke="#b08a50" stroke-width="0.8"/><line x1="743.2" y1="226.8" x2="740" y2="230" stroke="#b08a50" stroke-width="0.8"/>
<rect x="867.80" y="225.80" width="85.00" height="40.20" rx="4" fill="url(#gGold)" stroke="#c49a48" stroke-width="0.9" />
<text x="872.00" y="245.40" font-size="6.8" font-weight="bold" fill="#1a1a1a" textLength="78.00" lengthAdjust="spacingAndGlyphs">VISITOR [TO INCITE TO BUY]  {by</text>
<text x="870.00" y="253.70" font-size="6.8" font-weight="bold" fill="#1a1a1a" textLength="81.40" lengthAdjust="spacingAndGlyphs">Providing periodic campaign info.</text>
<text x="894.40" y="262.10" font-size="6.8" font-weight="bold" fill="#1a1a1a" textLength="32.00" lengthAdjust="spacingAndGlyphs">on Products}</text>
<circle cx="946" cy="231.5" r="2.6" fill="none" stroke="#b08a50" stroke-width="0.8"/><line x1="944.2" y1="233.3" x2="941" y2="236.5" stroke="#b08a50" stroke-width="0.8"/>
<rect x="1015.30" y="219.40" width="65.70" height="40.30" rx="4" fill="url(#gGold)" stroke="#c49a48" stroke-width="0.9" />
<text x="1022.00" y="238.40" font-size="6.8" font-weight="bold" fill="#1a1a1a" textLength="50.80" lengthAdjust="spacingAndGlyphs">VISITOR [TO INCITE TO</text>
<text x="1020.80" y="246.20" font-size="6.8" font-weight="bold" fill="#1a1a1a" textLength="53.20" lengthAdjust="spacingAndGlyphs">ORDER AND COMPLETE</text>
<text x="1034.70" y="254.30" font-size="6.8" font-weight="bold" fill="#1a1a1a" textLength="25.80" lengthAdjust="spacingAndGlyphs">PURCHASE]</text>
<circle cx="1074.5" cy="225" r="2.6" fill="none" stroke="#b08a50" stroke-width="0.8"/><line x1="1072.7" y1="226.8" x2="1069.5" y2="230" stroke="#b08a50" stroke-width="0.8"/>
<rect x="602.80" y="268.00" width="95.00" height="42.50" rx="4" fill="url(#gGold)" stroke="#c49a48" stroke-width="0.9" />
<text x="611.00" y="287.60" font-size="6.8" font-weight="bold" fill="#1a1a1a" textLength="83.20" lengthAdjust="spacingAndGlyphs">VISITOR [TO INCITE TO REGISTER]</text>
<text x="609.70" y="295.90" font-size="6.8" font-weight="bold" fill="#1a1a1a" textLength="80.90" lengthAdjust="spacingAndGlyphs">{being suggested to benefit from</text>
<text x="627.00" y="304.50" font-size="6.8" font-weight="bold" fill="#1a1a1a" textLength="47.20" lengthAdjust="spacingAndGlyphs">future campaigns }</text>
<circle cx="691" cy="274" r="2.6" fill="none" stroke="#b08a50" stroke-width="0.8"/><line x1="689.2" y1="275.8" x2="686" y2="279" stroke="#b08a50" stroke-width="0.8"/>
<rect x="719.40" y="268.00" width="106.20" height="42.50" rx="4" fill="url(#gGold)" stroke="#c49a48" stroke-width="0.9" />
<text x="727.00" y="287.60" font-size="6.8" font-weight="bold" fill="#1a1a1a" textLength="95.00" lengthAdjust="spacingAndGlyphs">VISITOR [TO MOTIVATE TO COMPLETE</text>
<text x="728.90" y="295.90" font-size="6.8" font-weight="bold" fill="#1a1a1a" textLength="88.30" lengthAdjust="spacingAndGlyphs">REGISTRATION] {being suggested to</text>
<text x="722.00" y="304.50" font-size="6.8" font-weight="bold" fill="#1a1a1a" textLength="102.20" lengthAdjust="spacingAndGlyphs">benefit from discount on future purchase}</text>
<circle cx="819" cy="274" r="2.6" fill="none" stroke="#b08a50" stroke-width="0.8"/><line x1="817.2" y1="275.8" x2="814" y2="279" stroke="#b08a50" stroke-width="0.8"/>
<rect x="946.40" y="271.00" width="59.10" height="39.50" rx="4" fill="url(#gOrange)" stroke="#d6935a" stroke-width="0.9" />
<text x="950.60" y="290.40" font-size="6.8" font-weight="bold" fill="#1a1a1a" textLength="50.00" lengthAdjust="spacingAndGlyphs">VISITOR [TO INCITE TO</text>
<text x="958.90" y="298.10" font-size="6.8" font-weight="bold" fill="#1a1a1a" textLength="32.50" lengthAdjust="spacingAndGlyphs">PLACE ORDER]</text>
<circle cx="999" cy="277" r="2.6" fill="none" stroke="#b08a50" stroke-width="0.8"/><line x1="997.2" y1="278.8" x2="994" y2="282" stroke="#b08a50" stroke-width="0.8"/>
<rect x="1093.00" y="271.00" width="57.80" height="40.00" rx="4" fill="url(#gOrange)" stroke="#d6935a" stroke-width="0.9" />
<text x="1107.80" y="289.80" font-size="6.8" font-weight="bold" fill="#1a1a1a" textLength="27.50" lengthAdjust="spacingAndGlyphs">VISITOR [TO</text>
<text x="1103.60" y="297.60" font-size="6.8" font-weight="bold" fill="#1a1a1a" textLength="35.30" lengthAdjust="spacingAndGlyphs">ENCOURAGE TO</text>
<text x="1095.30" y="305.70" font-size="6.8" font-weight="bold" fill="#1a1a1a" textLength="51.40" lengthAdjust="spacingAndGlyphs">COMPLETE PURCHASE]</text>
<circle cx="1144.5" cy="277" r="2.6" fill="none" stroke="#b08a50" stroke-width="0.8"/><line x1="1142.7" y1="278.8" x2="1139.5" y2="282" stroke="#b08a50" stroke-width="0.8"/>
<path d="M704.00 254.60 L707.50 262.60 L700.50 262.60 Z" fill="#fff" stroke="#7f8fa6" stroke-width="0.9"/>
<path d="M650.60 311.50 L654.10 319.50 L647.10 319.50 Z" fill="#fff" stroke="#7f8fa6" stroke-width="0.9"/>
<path d="M750.00 311.50 L753.50 319.50 L746.50 319.50 Z" fill="#fff" stroke="#7f8fa6" stroke-width="0.9"/>
<path d="M935.30 267.70 L938.80 275.70 L931.80 275.70 Z" fill="#fff" stroke="#7f8fa6" stroke-width="0.9"/>
<path d="M969.40 311.50 L972.90 319.50 L965.90 319.50 Z" fill="#fff" stroke="#7f8fa6" stroke-width="0.9"/>
<path d="M1059.70 260.70 L1063.20 268.70 L1056.20 268.70 Z" fill="#fff" stroke="#7f8fa6" stroke-width="0.9"/>
<path d="M1128.30 312.00 L1131.80 320.00 L1124.80 320.00 Z" fill="#fff" stroke="#7f8fa6" stroke-width="0.9"/>
<line x1="670.00" y1="268.00" x2="682.00" y2="254.50" stroke="#7f8fa6" stroke-width="1"/><path d="M680.63 261.31 L682.00 254.50 L675.40 256.66" fill="none" stroke="#7f8fa6" stroke-width="1"/>
<line x1="742.00" y1="268.00" x2="723.00" y2="254.50" stroke="#7f8fa6" stroke-width="1"/><path d="M729.92 255.12 L723.00 254.50 L725.86 260.83" fill="none" stroke="#7f8fa6" stroke-width="1"/>
<line x1="1003.30" y1="271.70" x2="1018.60" y2="260.30" stroke="#7f8fa6" stroke-width="1"/><path d="M1015.88 266.69 L1018.60 260.30 L1011.70 261.08" fill="none" stroke="#7f8fa6" stroke-width="1"/>
<line x1="1093.00" y1="271.70" x2="1077.80" y2="260.50" stroke="#7f8fa6" stroke-width="1"/><path d="M1084.71 261.24 L1077.80 260.50 L1080.55 266.88" fill="none" stroke="#7f8fa6" stroke-width="1"/>
<path d="M814.4 167 L821.3 171.3 L814.4 175.6 Z" fill="#fff" stroke="#8090b0" stroke-width="0.9"/>
<path d="M838.9 167 L832 171.3 L838.9 175.6 Z" fill="#fff" stroke="#8090b0" stroke-width="0.9"/>
<ellipse cx="826.4" cy="171" rx="4.9" ry="7.2" fill="#9c8282"/>
<path d="M962 221.5 L968.5 225.3 L962 229 Z" fill="#fff" stroke="#8090b0" stroke-width="0.9"/>
<path d="M986 221.5 L979.5 225.3 L986 229 Z" fill="#fff" stroke="#8090b0" stroke-width="0.9"/>
<ellipse cx="974" cy="225.3" rx="4.3" ry="5.6" fill="#9c8282"/>
<line x1="826.4" y1="164.5" x2="826.4" y2="145" stroke="#4472c4" stroke-width="2.4" stroke-dasharray="6.5 6.5"/>
<path d="M822.5 145.2 L826.4 139.2 L830.3 145.2 Z" fill="#4472c4"/>
<text x="799.30" y="188.20" font-size="6.4" font-weight="normal" fill="#8a8a8a" textLength="54.70" lengthAdjust="spacingAndGlyphs">"AND" BETWEEN OUTCOMES</text>
<text x="800.30" y="195.90" font-size="6.4" font-weight="normal" fill="#8a8a8a" textLength="53.70" lengthAdjust="spacingAndGlyphs">(AND STATES THAT "REALIZE"</text>
<text x="815.40" y="202.70" font-size="6.4" font-weight="normal" fill="#8a8a8a" textLength="21.40" lengthAdjust="spacingAndGlyphs">THE GOAL )</text>
<line x1="941.50" y1="500.00" x2="941.50" y2="461.70" stroke="#4472c4" stroke-width="2.4"/><path d="M946.50 463.50 L941.50 454.50 L936.50 463.50 Z" fill="#4472c4"/>
<line x1="1063.50" y1="502.00" x2="1063.50" y2="460.20" stroke="#4472c4" stroke-width="2.4"/><path d="M1068.50 462.00 L1063.50 453.00 L1058.50 462.00 Z" fill="#4472c4"/>
<text x="914.70" y="471.20" font-size="11.6" font-weight="normal" fill="#2f55a0" textLength="61.50" lengthAdjust="spacingAndGlyphs">&lt;&lt;Realize&gt;&gt;</text>
<text x="1041.00" y="471.20" font-size="11.6" font-weight="normal" fill="#2f55a0" textLength="61.00" lengthAdjust="spacingAndGlyphs">&lt;&lt;Realize&gt;&gt;</text>
<line x1="1001.20" y1="325.80" x2="972.67" y2="367.38" stroke="#4472c4" stroke-width="1.1"/><path d="M970.57 364.25 L969.50 372.00 L976.35 368.21 Z" fill="#4472c4"/>
<line x1="1052.40" y1="316.60" x2="1096.25" y2="365.24" stroke="#4472c4" stroke-width="1.1"/><path d="M1092.71 366.54 L1100.00 369.40 L1097.91 361.86 Z" fill="#4472c4"/>
<rect x="118.6" y="388.3" width="237.9" height="28.7" fill="#ffff00"/>
<text x="14.00" y="86.40" font-size="21.7" textLength="500.20" lengthAdjust="spacingAndGlyphs" ><tspan font-weight="bold">In Domain-Driven Design, </tspan><tspan font-weight="bold" text-decoration="underline">bounded contexts </tspan>mean</text>
<text x="14.00" y="111.70" font-size="21.7" textLength="462.50" lengthAdjust="spacingAndGlyphs" ><tspan font-weight="bold">different models</tspan> of the <tspan font-weight="bold">same thing</tspan> (customers,</text>
<text x="14.00" y="136.90" font-size="21.7" textLength="462.00" lengthAdjust="spacingAndGlyphs" >products, etc…) and are represented by <tspan text-decoration="underline">models</tspan></text>
<text x="14.00" y="162.40" font-size="21.7" textLength="431.50" lengthAdjust="spacingAndGlyphs" >and <tspan font-weight="bold" text-decoration="underline">software</tspan> that implement those models.</text>
<text x="14.00" y="203.00" font-size="21.7" textLength="473.00" lengthAdjust="spacingAndGlyphs" >A <tspan text-decoration="underline">bounded context </tspan>delimits the <tspan text-decoration="underline">applicability of a</tspan></text>
<text x="14.00" y="228.20" font-size="21.7" textLength="458.50" lengthAdjust="spacingAndGlyphs" ><tspan text-decoration="underline">particular model </tspan>so that team members have a</text>
<text x="14.00" y="253.60" font-size="21.7" textLength="487.50" lengthAdjust="spacingAndGlyphs" >clear and shared understanding of <tspan font-weight="bold" text-decoration="underline">what has to be</tspan></text>
<text x="14.00" y="279.00" font-size="21.7" textLength="463.50" lengthAdjust="spacingAndGlyphs" ><tspan font-weight="bold" text-decoration="underline">consistent </tspan>and how it <tspan font-weight="bold" text-decoration="underline">relates to </tspan>other <tspan font-weight="bold">contexts</tspan>.</text>
<text x="14.00" y="320.10" font-size="21.7" textLength="418.10" lengthAdjust="spacingAndGlyphs" >A bounded context is the <tspan font-weight="bold" text-decoration="underline">boundary</tspan> for the</text>
<text x="14.00" y="345.40" font-size="21.7" textLength="202.50" lengthAdjust="spacingAndGlyphs" ><tspan font-weight="bold" text-decoration="underline">meaning of a model</tspan>.</text>
<text x="14.00" y="385.10" font-size="21.7" textLength="425.00" lengthAdjust="spacingAndGlyphs" >A bounded context <tspan font-weight="bold">creates autonomy</tspan>, thus</text>
<text x="14.00" y="410.40" font-size="21.7" textLength="348.50" lengthAdjust="spacingAndGlyphs" >allowing a dedicated team for each.</text>
<text x="14.00" y="450.00" font-size="21.7" textLength="449.80" lengthAdjust="spacingAndGlyphs" >Bounded contexts simplify the architecture by</text>
<text x="14.00" y="475.40" font-size="21.7" textLength="351.90" lengthAdjust="spacingAndGlyphs" ><tspan font-weight="bold">separating concerns</tspan> (cf. next slide).</text>
<path d="M309.6 545.4 C313.9 548.0 327.6 552.6 335.3 560.8 C343.0 568.9 351.4 583.1 355.9 594.3 C360.4 605.4 362.3 616.2 362.3 627.7 C362.3 639.2 360.4 653.3 355.9 663.6 C351.4 673.9 344.7 682.0 335.3 689.3 C325.9 696.6 312.6 703.6 299.3 707.3 C286.0 710.9 269.4 711.2 255.7 711.2 C242.0 711.2 229.1 710.1 217.1 707.3 C205.1 704.5 191.4 700.1 183.7 694.5 C176.0 688.9 173.0 677.3 170.8 673.9 Q168 667 174.7 670" fill="none" stroke="#a8a8a8" stroke-width="0.8"/>
<path d="M320.0 552.5 C323.8 556.0 337.0 563.8 343.0 573.7 C349.0 583.7 354.2 599.4 355.9 612.2 C357.6 625.1 356.7 639.7 353.3 650.8 C349.9 661.9 344.3 671.1 335.3 679.0 C326.3 686.9 312.6 694.3 299.3 698.3 C286.0 702.2 269.4 702.5 255.7 702.7 C242.0 702.9 228.7 702.2 217.1 699.6 C205.5 697.0 193.4 691.7 186.3 686.8 C179.2 681.9 176.6 672.8 174.7 670.0" fill="none" stroke="#a8a8a8" stroke-width="0.8"/>
<path d="M309.6 545.4 Q302 545 305 551 Q308 555 313 556" fill="none" stroke="#a8a8a8" stroke-width="0.8"/>
<circle cx="322.5" cy="557" r="0.9" fill="#444"/>
<path d="M218 553 L225 500 Q226 494 221 494 Q216 494 215 500 L208 552 Q207 558 211 558 Q215 558 216 553" fill="none" stroke="#a0a0a0" stroke-width="0.7"/>
<path d="M216 540 L222 502 Q223 497 227 497 Q231 497 230 503 L224 541 Q223 546 219 546 Q215 545 216 540" fill="none" stroke="#a0a0a0" stroke-width="0.7"/>
<circle cx="208.8" cy="543.5" r="0.9" fill="#444"/><circle cx="219" cy="536" r="0.9" fill="#444"/>
<rect x="-3.25" y="-3.25" width="45.70" height="6.50" rx="3.25" fill="none" stroke="#9a9a9a" stroke-width="0.7" transform="translate(177.00 565.00) rotate(127.75)"/>
<circle cx="165" cy="590" r="0.9" fill="#444"/>
<rect x="-3.25" y="-3.25" width="51.10" height="6.50" rx="3.25" fill="none" stroke="#9a9a9a" stroke-width="0.7" transform="translate(183.00 688.00) rotate(19.65)"/>
<circle cx="212" cy="697" r="0.9" fill="#444"/>
<text transform="translate(176.30 501.70) scale(0.95 1)" font-size="5" font-weight="bold" fill="#444" text-anchor="start">Architecture</text><text transform="translate(176.30 506.90) scale(0.95 1)" font-size="5" font-weight="bold" fill="#444" text-anchor="start">Capability</text><text transform="translate(176.30 512.10) scale(0.95 1)" font-size="5" font-weight="bold" fill="#444" text-anchor="start">Iteration</text>
<text transform="translate(131.20 561.40) scale(0.95 1)" font-size="5" font-weight="bold" fill="#444" text-anchor="start">Architecture</text><text transform="translate(131.20 566.60) scale(0.95 1)" font-size="5" font-weight="bold" fill="#444" text-anchor="start">Governance</text><text transform="translate(131.20 571.80) scale(0.95 1)" font-size="5" font-weight="bold" fill="#444" text-anchor="start">Iteration</text>
<text transform="translate(329.50 533.90) scale(0.95 1)" font-size="5" font-weight="bold" fill="#444" text-anchor="start">Architecture</text><text transform="translate(329.50 539.10) scale(0.95 1)" font-size="5" font-weight="bold" fill="#444" text-anchor="start">Development</text><text transform="translate(329.50 544.30) scale(0.95 1)" font-size="5" font-weight="bold" fill="#444" text-anchor="start">Iteration</text>
<text transform="translate(146.20 686.70) scale(0.95 1)" font-size="5" font-weight="bold" fill="#444" text-anchor="start">Transition</text><text transform="translate(146.20 691.90) scale(0.95 1)" font-size="5" font-weight="bold" fill="#444" text-anchor="start">Planning</text><text transform="translate(146.20 697.10) scale(0.95 1)" font-size="5" font-weight="bold" fill="#444" text-anchor="start">Iteration</text>
<text transform="translate(340.00 701.20) scale(0.95 1)" font-size="3.8" font-weight="normal" fill="#999" text-anchor="middle">© The Open Group</text>
<ellipse cx="256.1" cy="620.9" rx="68" ry="59" fill="none" stroke="#666" stroke-width="0.8"/>
<line x1="256.40" y1="529.50" x2="256.40" y2="542.50" stroke="#333" stroke-width="0.8"/><path d="M256.40 542.50 L254.60 539.30 L258.20 539.30 Z" fill="#333"/><path d="M256.40 529.50 L254.60 532.70 L258.20 532.70 Z" fill="#333"/>
<line x1="256.22" y1="596.80" x2="256.30" y2="580.80" stroke="#333" stroke-width="0.8"/><path d="M256.30 580.80 L258.09 584.01 L254.49 583.99 Z" fill="#333"/><path d="M256.22 596.80 L258.04 593.61 L254.44 593.59 Z" fill="#333"/>
<line x1="275.42" y1="603.64" x2="288.16" y2="592.26" stroke="#333" stroke-width="0.8"/><path d="M288.16 592.26 L286.97 595.74 L284.57 593.05 Z" fill="#333"/><path d="M275.42 603.64 L279.00 602.85 L276.61 600.17 Z" fill="#333"/>
<line x1="283.80" y1="620.90" x2="301.70" y2="620.90" stroke="#333" stroke-width="0.8"/><path d="M301.70 620.90 L298.50 622.70 L298.50 619.10 Z" fill="#333"/><path d="M283.80 620.90 L287.00 622.70 L287.00 619.10 Z" fill="#333"/>
<line x1="275.65" y1="637.96" x2="287.97" y2="648.70" stroke="#333" stroke-width="0.8"/><path d="M287.97 648.70 L284.37 647.96 L286.74 645.24 Z" fill="#333"/><path d="M275.65 637.96 L276.88 641.42 L279.25 638.70 Z" fill="#333"/>
<line x1="256.10" y1="645.00" x2="256.10" y2="659.80" stroke="#333" stroke-width="0.8"/><path d="M256.10 659.80 L254.30 656.60 L257.90 656.60 Z" fill="#333"/><path d="M256.10 645.00 L254.30 648.20 L257.90 648.20 Z" fill="#333"/>
<line x1="236.55" y1="637.96" x2="224.23" y2="648.70" stroke="#333" stroke-width="0.8"/><path d="M224.23 648.70 L225.46 645.24 L227.83 647.96 Z" fill="#333"/><path d="M236.55 637.96 L232.95 638.70 L235.32 641.42 Z" fill="#333"/>
<line x1="228.40" y1="620.90" x2="210.30" y2="620.90" stroke="#333" stroke-width="0.8"/><path d="M210.30 620.90 L213.50 619.10 L213.50 622.70 Z" fill="#333"/><path d="M228.40 620.90 L225.20 619.10 L225.20 622.70 Z" fill="#333"/>
<line x1="236.76" y1="603.66" x2="223.96" y2="592.25" stroke="#333" stroke-width="0.8"/><path d="M223.96 592.25 L227.54 593.03 L225.15 595.72 Z" fill="#333"/><path d="M236.76 603.66 L235.57 600.19 L233.17 602.87 Z" fill="#333"/>
<ellipse cx="256.4" cy="510.2" rx="21" ry="18.2" fill="url(#gAdm)" stroke="#6a6a50" stroke-width="0.7"/>
<text transform="translate(256.40 512.00) scale(0.95 1)" font-size="5.2" font-weight="bold" fill="#222" text-anchor="middle">Preliminary</text>
<ellipse cx="256.4" cy="561.1" rx="21" ry="18.3" fill="url(#gAdm)" stroke="#6a6a50" stroke-width="0.7"/>
<text transform="translate(256.40 557.50) scale(0.9 1)" font-size="5" font-weight="bold" fill="#222" text-anchor="middle">A.</text>
<text transform="translate(256.40 562.70) scale(0.9 1)" font-size="5" font-weight="normal" fill="#222" text-anchor="middle">Architecture</text>
<text transform="translate(256.40 567.90) scale(0.9 1)" font-size="5" font-weight="normal" fill="#222" text-anchor="middle">Vision</text>
<ellipse cx="303.9" cy="578.2" rx="21" ry="18.3" fill="url(#gAdm)" stroke="#6a6a50" stroke-width="0.7"/>
<text transform="translate(303.90 574.60) scale(0.9 1)" font-size="5" font-weight="bold" fill="#222" text-anchor="middle">B.</text>
<text transform="translate(303.90 579.80) scale(0.9 1)" font-size="5" font-weight="normal" fill="#222" text-anchor="middle">Business</text>
<text transform="translate(303.90 585.00) scale(0.9 1)" font-size="5" font-weight="normal" fill="#222" text-anchor="middle">Architecture</text>
<ellipse cx="324.2" cy="620.9" rx="21" ry="18.3" fill="url(#gAdm)" stroke="#6a6a50" stroke-width="0.7"/>
<text transform="translate(324.20 614.70) scale(0.9 1)" font-size="5" font-weight="bold" fill="#222" text-anchor="middle">C.</text>
<text transform="translate(324.20 619.90) scale(0.9 1)" font-size="5" font-weight="normal" fill="#222" text-anchor="middle">Information</text>
<text transform="translate(324.20 625.10) scale(0.9 1)" font-size="5" font-weight="normal" fill="#222" text-anchor="middle">Systems</text>
<text transform="translate(324.20 630.30) scale(0.9 1)" font-size="5" font-weight="normal" fill="#222" text-anchor="middle">Architectures</text>
<ellipse cx="303.9" cy="662.6" rx="21" ry="18.3" fill="url(#gAdm)" stroke="#6a6a50" stroke-width="0.7"/>
<text transform="translate(303.90 659.00) scale(0.9 1)" font-size="5" font-weight="bold" fill="#222" text-anchor="middle">D.</text>
<text transform="translate(303.90 664.20) scale(0.9 1)" font-size="5" font-weight="normal" fill="#222" text-anchor="middle">Technology</text>
<text transform="translate(303.90 669.40) scale(0.9 1)" font-size="5" font-weight="normal" fill="#222" text-anchor="middle">Architecture</text>
<ellipse cx="256.1" cy="679.5" rx="21" ry="18.3" fill="url(#gAdm)" stroke="#6a6a50" stroke-width="0.7"/>
<text transform="translate(256.10 673.30) scale(0.9 1)" font-size="5" font-weight="bold" fill="#222" text-anchor="middle">E.</text>
<text transform="translate(256.10 678.50) scale(0.9 1)" font-size="5" font-weight="normal" fill="#222" text-anchor="middle">Opportunities</text>
<text transform="translate(256.10 683.70) scale(0.9 1)" font-size="5" font-weight="normal" fill="#222" text-anchor="middle">and</text>
<text transform="translate(256.10 688.90) scale(0.9 1)" font-size="5" font-weight="normal" fill="#222" text-anchor="middle">Solutions</text>
<ellipse cx="208.3" cy="662.6" rx="21" ry="18.3" fill="url(#gAdm)" stroke="#6a6a50" stroke-width="0.7"/>
<text transform="translate(208.30 659.00) scale(0.9 1)" font-size="5" font-weight="bold" fill="#222" text-anchor="middle">F.</text>
<text transform="translate(208.30 664.20) scale(0.9 1)" font-size="5" font-weight="normal" fill="#222" text-anchor="middle">Migration</text>
<text transform="translate(208.30 669.40) scale(0.9 1)" font-size="5" font-weight="normal" fill="#222" text-anchor="middle">Planning</text>
<ellipse cx="187.8" cy="620.9" rx="21" ry="18.3" fill="url(#gAdm)" stroke="#6a6a50" stroke-width="0.7"/>
<text transform="translate(187.80 617.30) scale(0.9 1)" font-size="5" font-weight="bold" fill="#222" text-anchor="middle">G.</text>
<text transform="translate(187.80 622.50) scale(0.9 1)" font-size="5" font-weight="normal" fill="#222" text-anchor="middle">Implementation</text>
<text transform="translate(187.80 627.70) scale(0.9 1)" font-size="5" font-weight="normal" fill="#222" text-anchor="middle">Governance</text>
<ellipse cx="208.2" cy="578.2" rx="21" ry="18.3" fill="url(#gAdm)" stroke="#6a6a50" stroke-width="0.7"/>
<text transform="translate(208.20 572.00) scale(0.9 1)" font-size="5" font-weight="bold" fill="#222" text-anchor="middle">H.</text>
<text transform="translate(208.20 577.20) scale(0.9 1)" font-size="5" font-weight="normal" fill="#222" text-anchor="middle">Architecture</text>
<text transform="translate(208.20 582.40) scale(0.9 1)" font-size="5" font-weight="normal" fill="#222" text-anchor="middle">Change</text>
<text transform="translate(208.20 587.60) scale(0.9 1)" font-size="5" font-weight="normal" fill="#222" text-anchor="middle">Management</text>
<ellipse cx="256.1" cy="620.9" rx="26.2" ry="22.6" fill="url(#gAdmC)" stroke="#7a6a40" stroke-width="0.7"/>
<text transform="translate(256.10 620.10) scale(0.95 1)" font-size="5.2" font-weight="bold" fill="#222" text-anchor="middle">Requirements</text>
<text transform="translate(256.10 625.50) scale(0.95 1)" font-size="5.2" font-weight="bold" fill="#222" text-anchor="middle">Management</text>
<ellipse cx="0" cy="0" rx="62.7" ry="36" fill="none" stroke="#ff0000" stroke-width="3.4" stroke-dasharray="12 8" transform="translate(210.9 657.1) rotate(42.6)"/>
<text x="525.00" y="193.00" font-size="21" textLength="108.00" lengthAdjust="spacingAndGlyphs" font-weight="bold" >Outcome 1</text>
<text x="525.00" y="262.50" font-size="21" textLength="98.00" lengthAdjust="spacingAndGlyphs" font-weight="bold" >Strategies</text>
<text x="525.00" y="345.50" font-size="21" textLength="116.10" lengthAdjust="spacingAndGlyphs" font-weight="bold" >Capabilities</text>
<text x="525.00" y="385.30" font-size="21" textLength="178.60" lengthAdjust="spacingAndGlyphs" font-weight="bold" >Customer Journey</text>
<text x="1009.00" y="193.30" font-size="21" textLength="108.20" lengthAdjust="spacingAndGlyphs" font-weight="bold" >Outcome 2</text>
<text x="976.00" y="332.60" font-size="21" textLength="142.40" lengthAdjust="spacingAndGlyphs" font-weight="bold" >Sub-Capabilities</text>
<text x="685.00" y="127.00" font-size="20.5" textLength="67.00" lengthAdjust="spacingAndGlyphs" font-weight="bold" >GOAL :</text>
<text x="759.00" y="127.00" font-size="17.4" textLength="183.50" lengthAdjust="spacingAndGlyphs" >Turn Visitors into Buyers</text>
<text x="509.00" y="548.60" font-size="19.2" textLength="192.00" lengthAdjust="spacingAndGlyphs" font-weight="bold" >A <tspan text-decoration="underline">Bounded Context</tspan></text>
<text x="509.00" y="577.00" font-size="19.2" textLength="170.00" lengthAdjust="spacingAndGlyphs" >may be identified</text>
<text x="509.00" y="606.00" font-size="19.2" textLength="221.50" lengthAdjust="spacingAndGlyphs" >for the context of each</text>
<text x="509.00" y="635.00" font-size="19.2" textLength="136.00" lengthAdjust="spacingAndGlyphs" >sub-capability</text>
<text x="767.00" y="486.00" font-size="15.5" textLength="186.00" lengthAdjust="spacingAndGlyphs" font-weight="bold" >WebSale Bounded Context</text>
<text x="982.00" y="488.00" font-size="15.5" textLength="181.00" lengthAdjust="spacingAndGlyphs" font-weight="bold" >Support Bounded Context</text>
<ellipse cx="693.5" cy="305.6" rx="151.5" ry="160" fill="none" stroke="#ff0000" stroke-width="3.2"/><ellipse cx="1007.5" cy="302" rx="166.5" ry="161" fill="none" stroke="#ff0000" stroke-width="3.2"/>
<defs>
<radialGradient id="gPe" cx="0.5" cy="0.5" r="0.7"><stop offset="0" stop-color="#fffdf8"/><stop offset="0.55" stop-color="#fdf0e2"/><stop offset="1" stop-color="#f3d2b4"/></radialGradient>
<radialGradient id="gTe" cx="0.5" cy="0.5" r="0.7"><stop offset="0" stop-color="#f6fcfc"/><stop offset="0.55" stop-color="#d6eeee"/><stop offset="1" stop-color="#8fcaca"/></radialGradient>
</defs>
<path d="M1022.0 628.0 C1018.2 638.3 1015.6 636.3 1009.4 642.0 C1003.2 647.7 997.0 655.6 984.6 662.1 C972.2 668.6 951.5 677.0 935.0 681.0 C918.5 685.0 902.4 687.7 885.4 686.0 C868.4 684.3 848.4 679.2 832.9 670.9 C817.4 662.5 802.1 647.6 792.1 635.9 C782.1 624.2 777.1 613.1 773.1 600.9 C769.1 588.7 768.4 574.1 768.2 562.9 C768.0 551.7 768.7 543.0 771.7 533.8 C774.7 524.6 780.9 513.1 786.3 507.5 C791.6 501.9 790.7 502.5 803.8 500.2 C816.9 497.9 847.0 494.5 865.0 493.5 C883.0 492.5 896.1 493.3 911.7 494.4 C927.3 495.5 943.8 497.3 958.4 500.2 C973.0 503.1 988.6 506.9 999.2 511.9 C1009.8 516.9 1016.5 518.6 1022.0 530.0 C1027.5 541.4 1032.0 563.7 1032.0 580.0 C1032.0 596.3 1025.8 617.7 1022.0 628.0 Z" fill="none" stroke="#111" stroke-width="2.2" stroke-dasharray="9 5 2.5 5"/>
<path d="M1013.0 513.0 C1015.0 499.9 1015.2 504.9 1023.6 502.8 C1032.0 500.8 1046.0 500.5 1063.3 500.7 C1080.6 500.9 1108.1 501.8 1127.5 503.8 C1146.9 505.9 1168.3 509.7 1179.5 513.0 C1190.7 516.3 1191.2 514.7 1194.8 523.6 C1198.4 532.5 1199.6 549.1 1200.9 566.4 C1202.2 583.7 1202.9 608.6 1202.4 627.5 C1201.9 646.4 1200.9 667.9 1197.8 679.5 C1194.7 691.1 1193.6 693.0 1184.0 697.0 C1174.4 701.0 1157.0 704.3 1140.0 703.7 C1123.0 703.1 1099.1 698.2 1081.7 693.2 C1064.3 688.2 1047.0 680.8 1035.8 673.4 C1024.6 666.0 1018.5 664.2 1014.4 648.9 C1010.3 633.6 1011.6 604.4 1011.4 581.7 C1011.2 559.1 1011.0 526.1 1013.0 513.0 Z" fill="#ffffff" stroke="#111" stroke-width="2.2" stroke-dasharray="3 3.2"/>
<text x="880" y="516.5" font-size="10.5" font-style="italic" font-weight="bold" fill="#a8806c" textLength="71" lengthAdjust="spacingAndGlyphs">Sales Context</text>
<text x="1071" y="530" font-size="10.5" font-style="italic" font-weight="bold" fill="#5fa3a6" textLength="86.5" lengthAdjust="spacingAndGlyphs">Support Context</text>
<path d="M821.8 535.0 L821.8 559.0" fill="none" stroke="#222" stroke-width="1"/>
<path d="M860.6 527.0 L886.0 527.0 L886.0 568.0" fill="none" stroke="#222" stroke-width="1"/>
<path d="M886.0 591.0 L886.0 638.0" fill="none" stroke="#222" stroke-width="1"/>
<path d="M947.6 552.7 L905.3 552.7 L905.3 568.0" fill="none" stroke="#222" stroke-width="1"/>
<path d="M947.6 606.1 L905.3 606.1 L905.3 591.0" fill="none" stroke="#222" stroke-width="1"/>
<path d="M1076.2 553.3 L1112.2 553.3 L1112.2 558.8" fill="none" stroke="#222" stroke-width="1"/>
<path d="M1076.2 606.1 L1112.2 606.1 L1112.2 582.3" fill="none" stroke="#222" stroke-width="1"/>
<path d="M1131.5 582.3 L1131.5 619.9" fill="none" stroke="#222" stroke-width="1"/>
<path d="M1152.0 642.8 L1152.0 666.3" fill="none" stroke="#222" stroke-width="1"/>
<rect x="1006" y="546" width="11.5" height="9" fill="#c8dcc8" opacity="0.8"/>
<rect x="1006" y="605" width="11.5" height="9" fill="#c8dcc8" opacity="0.8"/>
<rect x="804.50" y="514.30" width="57.70" height="22.70" rx="3" fill="#9a9a9a" opacity="0.55"/><rect x="802.90" y="512.50" width="57.70" height="22.70" rx="3" fill="url(#gPe)" stroke="#2a2a2a" stroke-width="1"/><text x="831.75" y="526.45" font-size="7.4" font-weight="bold" fill="#1a1a1a" text-anchor="middle" textLength="37.00" lengthAdjust="spacingAndGlyphs">Opportunity</text>
<rect x="784.90" y="560.90" width="57.80" height="22.80" rx="3" fill="#9a9a9a" opacity="0.55"/><rect x="783.30" y="559.10" width="57.80" height="22.80" rx="3" fill="url(#gPe)" stroke="#2a2a2a" stroke-width="1"/><text x="812.20" y="573.10" font-size="7.4" font-weight="bold" fill="#1a1a1a" text-anchor="middle" textLength="27.00" lengthAdjust="spacingAndGlyphs">Pipeline</text>
<rect x="868.10" y="570.00" width="57.70" height="23.00" rx="3" fill="#9a9a9a" opacity="0.55"/><rect x="866.50" y="568.20" width="57.70" height="23.00" rx="3" fill="url(#gPe)" stroke="#2a2a2a" stroke-width="1"/><text x="895.35" y="582.30" font-size="7.4" font-weight="bold" fill="#1a1a1a" text-anchor="middle" textLength="31.00" lengthAdjust="spacingAndGlyphs">Territory</text>
<rect x="949.20" y="539.90" width="58.30" height="22.80" rx="3" fill="#9a9a9a" opacity="0.55"/><rect x="947.60" y="538.10" width="58.30" height="22.80" rx="3" fill="url(#gPe)" stroke="#2a2a2a" stroke-width="1"/><text x="976.75" y="552.10" font-size="7.4" font-weight="bold" fill="#1a1a1a" text-anchor="middle" textLength="33.00" lengthAdjust="spacingAndGlyphs">Customer</text>
<rect x="949.20" y="600.60" width="58.30" height="23.10" rx="3" fill="#9a9a9a" opacity="0.55"/><rect x="947.60" y="598.80" width="58.30" height="23.10" rx="3" fill="url(#gPe)" stroke="#2a2a2a" stroke-width="1"/><text x="976.75" y="612.95" font-size="7.4" font-weight="bold" fill="#1a1a1a" text-anchor="middle" textLength="28.00" lengthAdjust="spacingAndGlyphs">Product</text>
<rect x="868.10" y="640.00" width="57.70" height="23.00" rx="3" fill="#9a9a9a" opacity="0.55"/><rect x="866.50" y="638.20" width="57.70" height="23.00" rx="3" fill="url(#gPe)" stroke="#2a2a2a" stroke-width="1"/><text x="895.35" y="652.30" font-size="7.4" font-weight="bold" fill="#1a1a1a" text-anchor="middle" textLength="42.00" lengthAdjust="spacingAndGlyphs">Sales Person</text>
<rect x="1019.10" y="539.80" width="58.70" height="23.20" rx="3" fill="#9a9a9a" opacity="0.55"/><rect x="1017.50" y="538.00" width="58.70" height="23.20" rx="3" fill="url(#gTe)" stroke="#2a2a2a" stroke-width="1"/><text x="1046.85" y="552.20" font-size="7.4" font-weight="bold" fill="#1a1a1a" text-anchor="middle" textLength="33.00" lengthAdjust="spacingAndGlyphs">Customer</text>
<rect x="1019.10" y="600.30" width="58.70" height="23.50" rx="3" fill="#9a9a9a" opacity="0.55"/><rect x="1017.50" y="598.50" width="58.70" height="23.50" rx="3" fill="url(#gTe)" stroke="#2a2a2a" stroke-width="1"/><text x="1046.85" y="612.85" font-size="7.4" font-weight="bold" fill="#1a1a1a" text-anchor="middle" textLength="28.00" lengthAdjust="spacingAndGlyphs">Product</text>
<rect x="1094.90" y="560.60" width="57.70" height="23.50" rx="3" fill="#9a9a9a" opacity="0.55"/><rect x="1093.30" y="558.80" width="57.70" height="23.50" rx="3" fill="url(#gTe)" stroke="#2a2a2a" stroke-width="1"/><text x="1122.15" y="573.15" font-size="7.4" font-weight="bold" fill="#1a1a1a" text-anchor="middle" textLength="20.00" lengthAdjust="spacingAndGlyphs">Ticket</text>
<rect x="1114.50" y="621.70" width="58.10" height="22.90" rx="3" fill="#9a9a9a" opacity="0.55"/><rect x="1112.90" y="619.90" width="58.10" height="22.90" rx="3" fill="url(#gTe)" stroke="#2a2a2a" stroke-width="1"/><text x="1141.95" y="633.95" font-size="7.4" font-weight="bold" fill="#1a1a1a" text-anchor="middle" textLength="22.00" lengthAdjust="spacingAndGlyphs">Defect</text>
<rect x="1114.50" y="668.10" width="58.10" height="23.30" rx="3" fill="#9a9a9a" opacity="0.55"/><rect x="1112.90" y="666.30" width="58.10" height="23.30" rx="3" fill="url(#gTe)" stroke="#2a2a2a" stroke-width="1"/><text x="1141.95" y="676.65" font-size="7.4" font-weight="bold" fill="#1a1a1a" text-anchor="middle" textLength="28.00" lengthAdjust="spacingAndGlyphs">Product</text><text x="1141.95" y="684.45" font-size="7.4" font-weight="bold" fill="#1a1a1a" text-anchor="middle" textLength="26.00" lengthAdjust="spacingAndGlyphs">Version</text>
<text x="1157.5" y="712" font-size="8" fill="#1f3a70" textLength="57" lengthAdjust="spacingAndGlyphs">© Birol Berkem</text>
<text x="1219" y="712" font-size="8" font-weight="bold" fill="#1f3a70" textLength="46" lengthAdjust="spacingAndGlyphs">GooBiz.com</text>
</svg></body></html>
